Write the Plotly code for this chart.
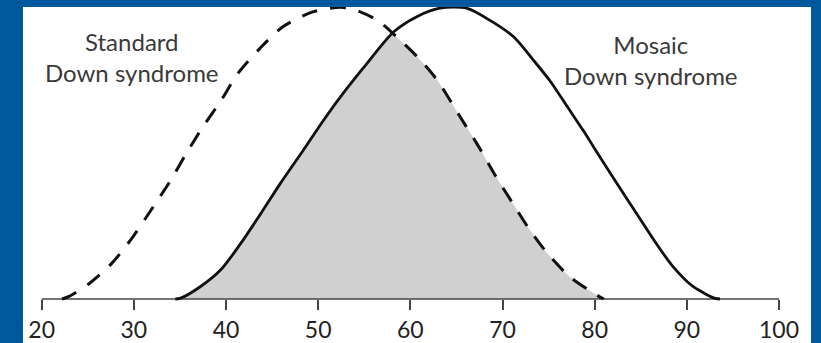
import plotly.graph_objects as go

# ---- data ----
tick_vals = [20, 30, 40, 50, 60, 70, 80, 90, 100]
tick_text = ["20", "30", "40", "50", "60", "70", "80", "90", "100"]

standard_x = [22.2, 22.9, 25.2, 27.6, 29.9, 32.1, 33.9, 35.7, 37.5, 39.5, 41.3, 43.7, 46.2, 49.5, 52.4,
              53.8, 56.4, 58.5, 61.1, 62.9, 65.4, 67.2, 69.2, 71.0, 72.8, 74.8, 77.3, 80.2, 81.0]
standard_y = [0, 0.8, 5.4, 12.2, 21.3, 31.6, 40.2, 49.9, 59.0, 68.2, 77.3, 85.9, 93.3, 98.4, 99.9,
              99.2, 95.5, 89.8, 81.8, 75.0, 62.4, 53.3, 42.4, 33.3, 24.4, 15.9, 7.6, 1.4, 0]

mosaic_x = [34.5, 35.0, 37.2, 39.4, 41.5, 43.7, 45.9, 48.4, 50.6, 52.7, 55.3, 58.2, 60.7, 63.2, 66.1,
            68.6, 71.2, 73.3, 75.2, 77.0, 78.8, 79.9, 82.4, 84.9, 86.7, 88.5, 90.7, 93.1, 93.6]
mosaic_y = [0, 0.2, 4.2, 9.9, 18.6, 28.9, 39.6, 51.0, 61.3, 70.4, 80.7, 91.5, 96.7, 99.6, 99.6,
            95.5, 89.8, 82.0, 74.5, 66.0, 57.5, 52.0, 39.6, 27.6, 18.9, 11.1, 4.2, 0.2, 0]

crossing = (58.3, 91.0)

labels = ["Standard<br>Down syndrome", "Mosaic<br>Down syndrome"]
label_x = [29.8, 86.1]
label_y = [82.9, 81.9]

# ---- overlap region: mosaic before the crossing, standard after ----
overlap_x = [x for x in mosaic_x if x < crossing[0]] + [crossing[0]] + [x for x in standard_x if x > crossing[0]]
overlap_y = ([y for x, y in zip(mosaic_x, mosaic_y) if x < crossing[0]] + [crossing[1]] +
             [y for x, y in zip(standard_x, standard_y) if x > crossing[0]])

W, H = 821, 343
plot_l, plot_r, plot_t, plot_b = 23, 811, 7, 343
axis_px = 299

fig = go.Figure()
fig.add_trace(go.Scatter(x=overlap_x, y=overlap_y, mode="lines",
                         line=dict(width=0, shape="spline", smoothing=0.8),
                         fill="tozeroy", fillcolor="#d0d0d0", hoverinfo="skip", showlegend=False))
fig.add_trace(go.Scatter(x=[tick_vals[0], tick_vals[-1]], y=[0, 0], mode="lines",
                         line=dict(color="#444444", width=1.5), hoverinfo="skip", showlegend=False))
fig.add_trace(go.Scatter(x=standard_x, y=standard_y, mode="lines", name="Standard",
                         line=dict(color="#111111", width=3, dash="16px,13px", shape="spline", smoothing=0.8),
                         showlegend=False))
fig.add_trace(go.Scatter(x=mosaic_x, y=mosaic_y, mode="lines", name="Mosaic",
                         line=dict(color="#111111", width=2.8, shape="spline", smoothing=0.8),
                         showlegend=False))

for t, x, y in zip(labels, label_x, label_y):
    fig.add_annotation(x=x, y=y, text=t, showarrow=False, xanchor="center", yanchor="middle",
                       font=dict(family="Lato", size=24, color="#3a3a3a"))

px_per_unit = (779 - 41.7) / 80
x0 = 20 + (plot_l - 41.7) / px_per_unit
x1 = 20 + (plot_r - 41.7) / px_per_unit
h_per_px = 100 / (axis_px - 7)
y0 = -(plot_b - axis_px) * h_per_px
y1 = 100

fig.update_layout(
    width=W, height=H,
    margin=dict(l=plot_l, r=W - plot_r, t=plot_t, b=H - plot_b, pad=0),
    paper_bgcolor="#00589c", plot_bgcolor="#ffffff",
    xaxis=dict(range=[x0, x1], anchor="free", position=(plot_b - axis_px) / (plot_b - plot_t),
               tickvals=tick_vals, ticktext=tick_text, ticks="outside", ticklen=10, tickwidth=1.5,
               tickcolor="#444444", showline=False, showgrid=False, zeroline=False, automargin=False,
               tickfont=dict(family="Lato", size=23, color="#222222"), fixedrange=True),
    yaxis=dict(range=[y0, y1], visible=False, showgrid=False, zeroline=False, fixedrange=True),
    showlegend=False,
)

fig.write_html("out.html", config={"displayModeBar": False},
               post_script="document.body.style.margin='0';document.body.style.overflow='hidden';")
